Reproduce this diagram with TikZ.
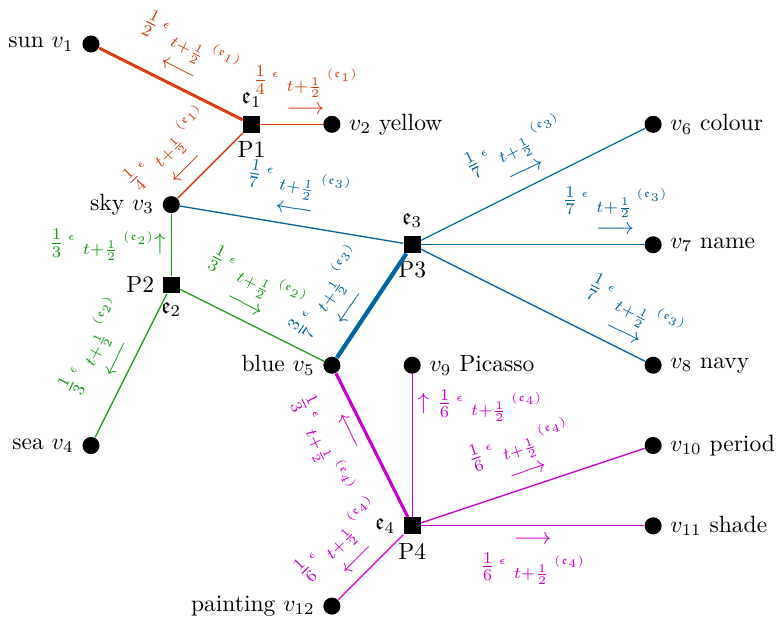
\documentclass[tikz,border=0pt]{standalone}
\usepackage{amsmath,amssymb}
\definecolor{fgred}{RGB}{214,64,16}
\definecolor{fgblue}{RGB}{0,102,160}
\definecolor{fggreen}{RGB}{20,155,20}
\definecolor{fgmagenta}{RGB}{204,0,204}
\usetikzlibrary{positioning}
\newcommand{\msg}[2]{$\frac{1}{#1}\,{}^{\scriptscriptstyle\epsilon}\;{}_{t+\frac{1}{2}}\,{}^{\scriptscriptstyle(\mathfrak{e}_{#2})}$}
\tikzset{
  varnode/.style={circle, fill=black, inner sep=0pt, minimum size=0.255cm},
  facnode/.style={rectangle, fill=black, inner sep=0pt, minimum size=0.25cm},
  fline/.style={draw=#1, line width=0.55pt},
  fthick/.style={draw=#1, line width=1.3pt},
  msgl/.style={text=#1, align=center, inner sep=4pt},
}

\begin{document}
\begin{tikzpicture}[x=1.2cm, y=1.2cm]
\useasboundingbox (-1.133,0.548) rectangle (8.605,-7.148);

% Variables
\node[varnode, label=left:{sun $v_1$}] (v1) at (0,0) {};
\node[varnode, label=right:{$v_2$ yellow}] (v2) at (3,-1) {};
\node[varnode, label=left:{sky $v_3$}] (v3) at (1,-2) {};
\node[varnode, label=left:{sea $v_4$}] (v4) at (0,-5) {};
\node[varnode, label=left:{blue $v_5$}] (v5) at (3,-4) {};
\node[varnode, label=right:{$v_6$ colour}] (v6) at (7,-1) {};
\node[varnode, label=right:{$v_7$ name}] (v7) at (7,-2.5) {};
\node[varnode, label=right:{$v_8$ navy}] (v8) at (7,-4) {};
\node[varnode, label=right:{$v_9$ Picasso}] (v9) at (4,-4) {};
\node[varnode, label=right:{$v_{10}$ period}] (v10) at (7,-5) {};
\node[varnode, label=right:{$v_{11}$ shade}] (v11) at (7,-6) {};
\node[varnode, label=left:{painting $v_{12}$}] (v12) at (3,-7) {};

% Factors
\node[facnode, label=above:{$\mathfrak{e}_1$}, label=below:P1] (p1) at (2,-1) {};
\node[facnode, label=left:P2, label=below:{$\mathfrak{e}_2$}] (p2) at (1,-3) {};
\node[facnode, label=above:{$\mathfrak{e}_3$}, label=below:P3] (p3) at (4,-2.5) {};
\node[facnode, label=left:{$\mathfrak{e}_4$}, label=below:P4] (p4) at (4,-6) {};

% Messages of e1
\draw[fthick=fgred] (p1) -- node[msgl=fgred, above, sloped, pos=.5] {\msg{2}{1}\\$\longleftarrow$} (v1);
\draw[fline=fgred] (p1) -- node[msgl=fgred, above, pos=.72] {\msg{4}{1}\\$\longrightarrow$} (v2);
\draw[fline=fgred] (p1) -- node[msgl=fgred, above, sloped, pos=.7] {\msg{4}{1}\\$\longleftarrow$} (v3);

% Messages of e2
\draw[fline=fggreen] (p2) -- node[msgl=fggreen, left, inner sep=2pt, pos=.5] {\msg{3}{2}$\uparrow$} (v3);
\draw[fline=fggreen] (p2) -- node[msgl=fggreen, above, sloped, pos=.5] {\msg{3}{2}\\$\longleftarrow$} (v4);
\draw[fline=fggreen] (p2) -- node[msgl=fggreen, above, sloped, pos=.4] {\msg{3}{2}\\$\longrightarrow$} (v5);

% Messages of e3
\draw[fline=fgblue] (p3) -- node[msgl=fgblue, above, sloped, pos=.5] {\msg{7}{3}\\$\longleftarrow$} (v3);
\draw[fthick=fgblue, line width=1.8pt] (p3) -- node[msgl=fgblue, above, sloped, pos=.61] {$\frac{3}{7}\,{}^{\scriptscriptstyle\epsilon}\;{}_{t+\frac{1}{2}}\,{}^{\scriptscriptstyle(\mathfrak{e}_3)}$\\$\longleftarrow$} (v5);
\draw[fline=fgblue] (p3) -- node[msgl=fgblue, above, sloped, pos=.5] {\msg{7}{3}\\$\longrightarrow$} (v6);
\draw[fline=fgblue] (p3) -- node[msgl=fgblue, above, pos=.87] {\msg{7}{3}\\$\longrightarrow$} (v7);
\draw[fline=fgblue] (p3) -- node[msgl=fgblue, above, sloped, pos=.87] {\msg{7}{3}\\$\longrightarrow$} (v8);

% Messages of e4
\draw[fthick=fgmagenta] (p4) -- node[msgl=fgmagenta, below, sloped, pos=.64] {$\longleftarrow$\\\msg{3}{4}} (v5);
\draw[fline=fgmagenta] (p4) -- node[msgl=fgmagenta, right, inner sep=2pt, pos=.78] {$\uparrow$ \msg{6}{4}} (v9);
\draw[fline=fgmagenta] (p4) -- node[msgl=fgmagenta, above, sloped, pos=.5] {\msg{6}{4}\\$\longrightarrow$} (v10);
\draw[fline=fgmagenta] (p4) -- node[msgl=fgmagenta, below, pos=.5] {$\longrightarrow$\\\msg{6}{4}} (v11);
\draw[fline=fgmagenta] (p4) -- node[msgl=fgmagenta, above, sloped, pos=.54] {\msg{6}{4}\\$\longleftarrow$} (v12);

\end{tikzpicture}
\end{document}
